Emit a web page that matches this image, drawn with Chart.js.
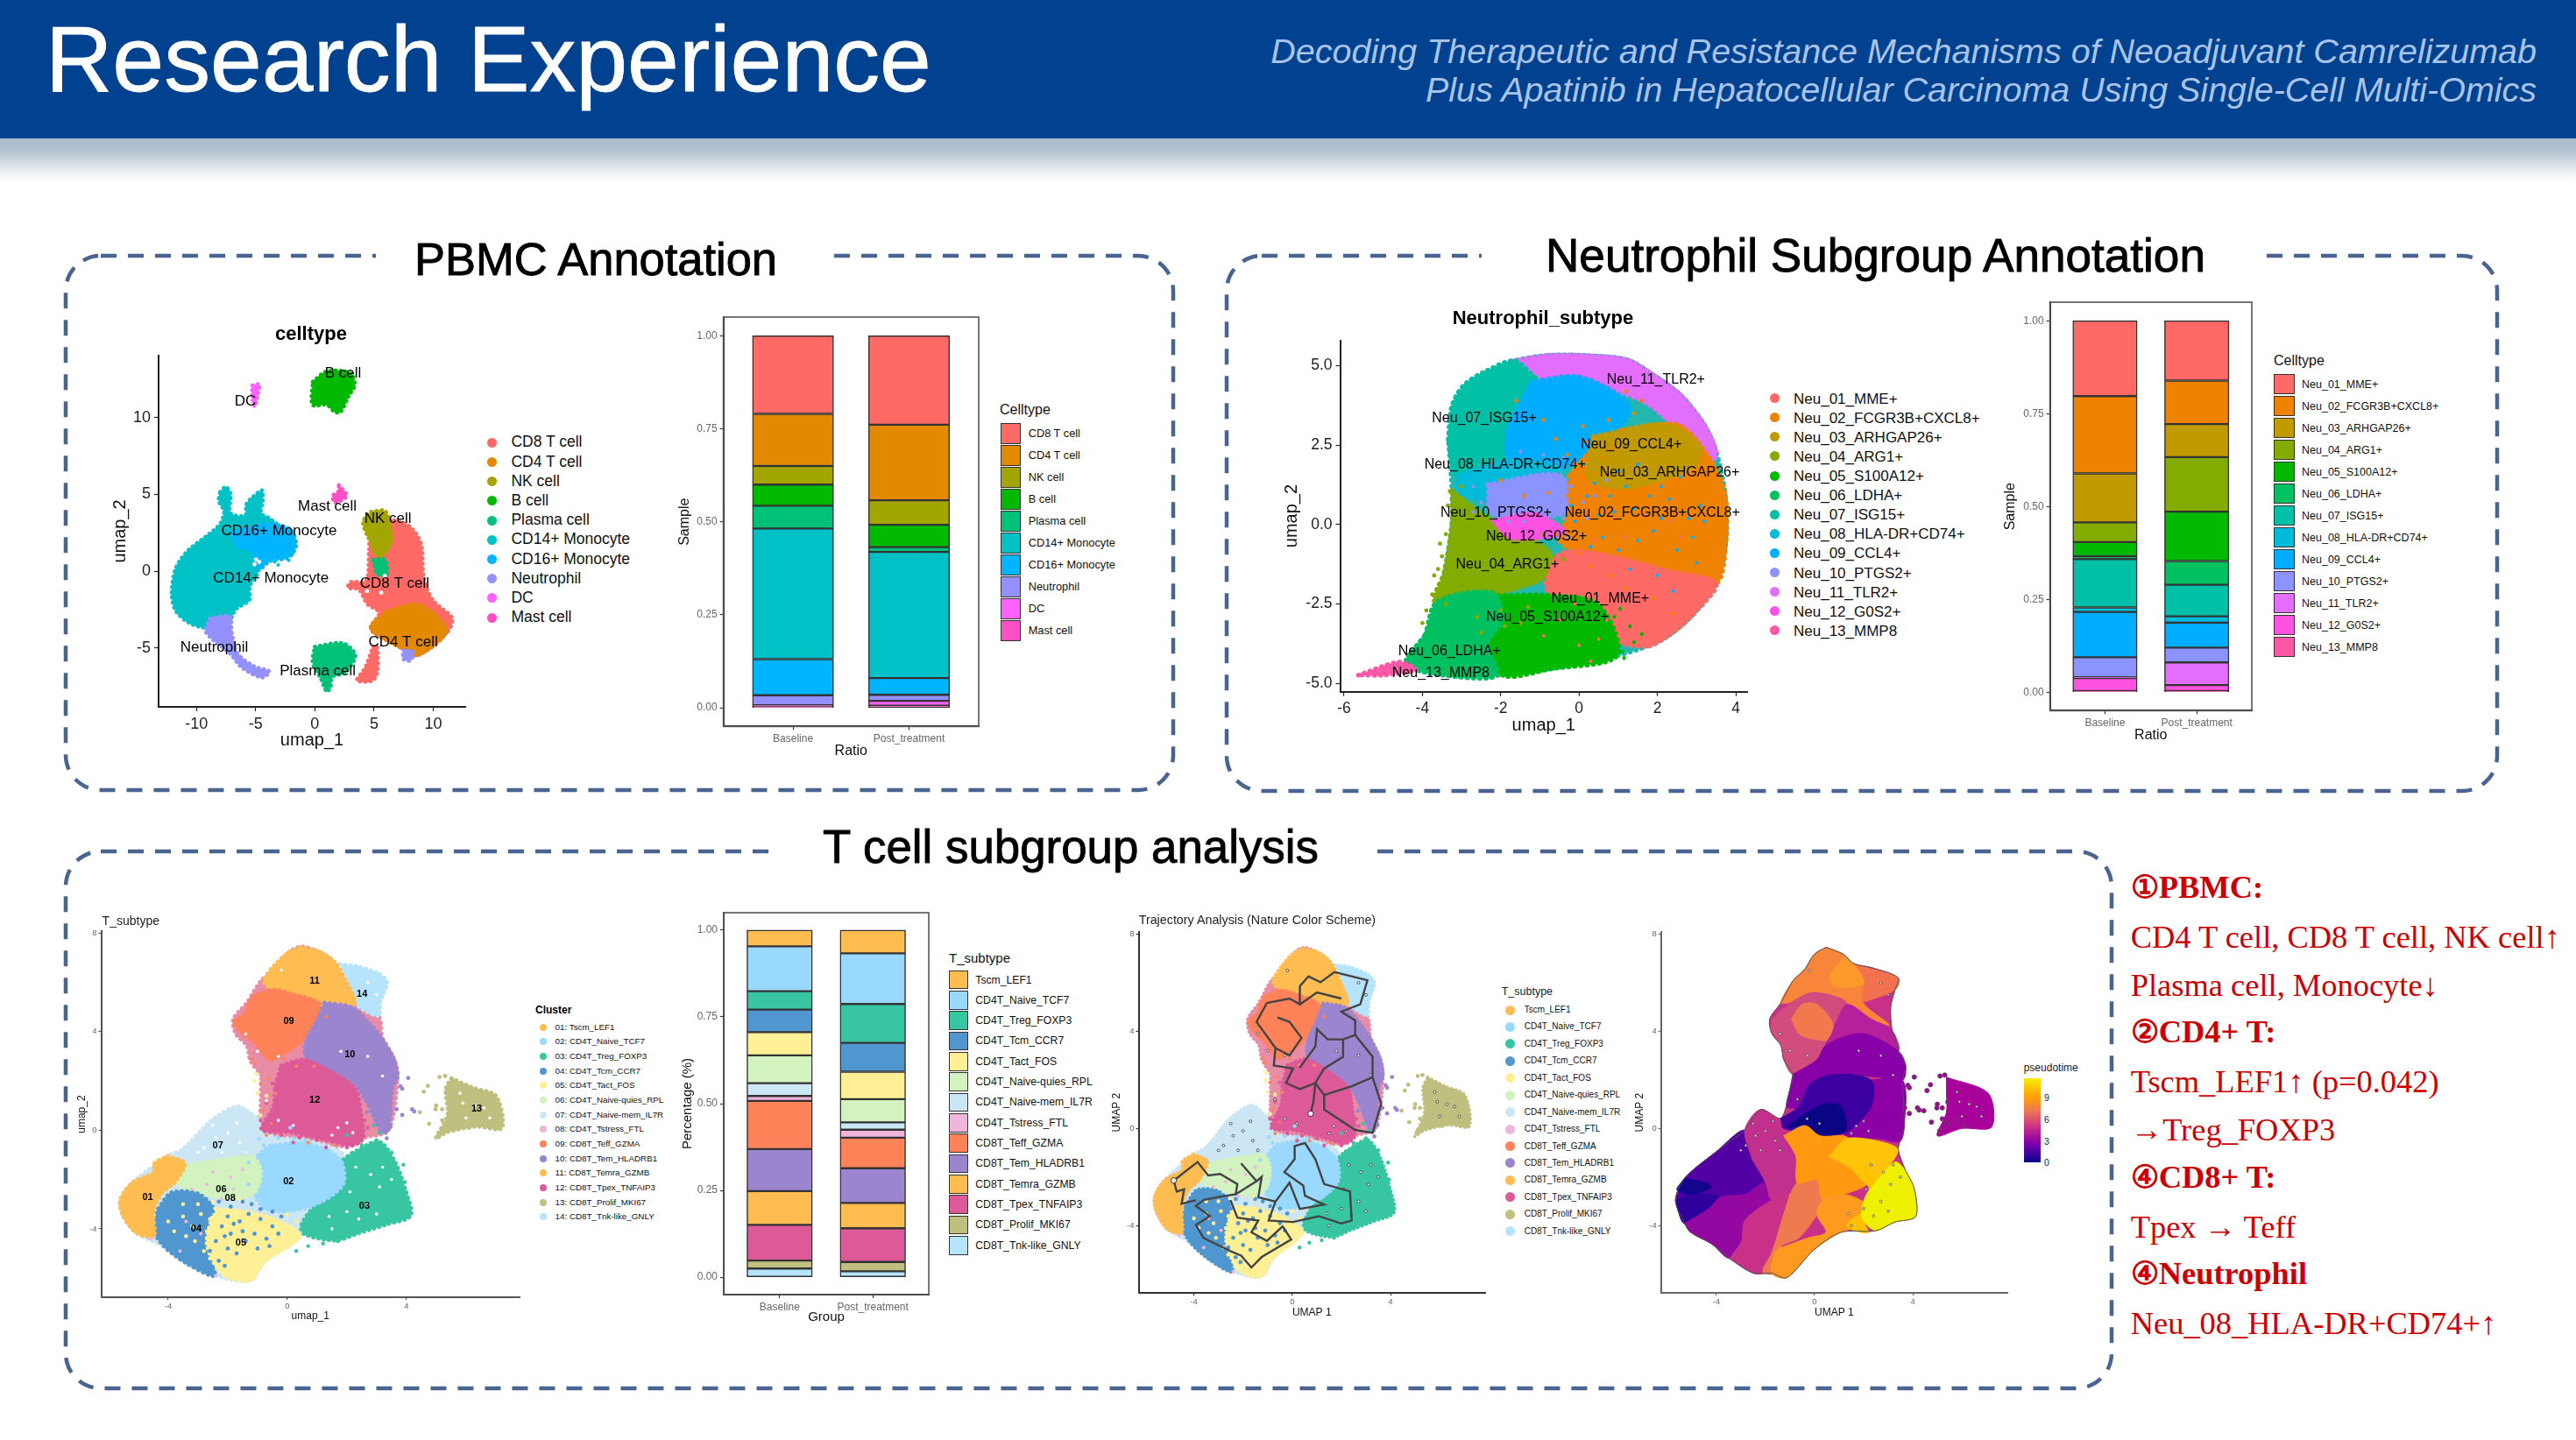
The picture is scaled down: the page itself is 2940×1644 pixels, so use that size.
<!DOCTYPE html>
<html><head><meta charset="utf-8">
<script src="https://cdn.jsdelivr.net/npm/chart.js@4/dist/chart.umd.min.js"></script>
<style>
html,body{margin:0;padding:0;background:#fff}
#page{position:relative;width:2940px;height:1644px;overflow:hidden;background:#fff;font-family:"Liberation Sans",Arial,sans-serif}
#page span{position:absolute;white-space:nowrap;line-height:1}
canvas{position:absolute}
.sw{position:absolute;box-sizing:border-box}
</style></head><body><div id="page"></div>
<script>
/* ---------- PBMC ---------- */
const pbmcNames=['CD8 T cell','CD4 T cell','NK cell','B cell','Plasma cell','CD14+ Monocyte','CD16+ Monocyte','Neutrophil','DC','Mast cell'];
const pbmcColors=['#FF6A66','#E38900','#A3A500','#00B900','#00C177','#00C2C6','#00B4FF','#9590FF','#FF61FF','#FF4FC4'];
const pbmcBaseline=[.210,.140,.050,.057,.061,.351,.097,.027,.003,.004];
const pbmcPost=[.239,.203,.066,.060,.013,.339,.045,.016,.013,.006];
const pbmcCD14=[[-8.03,5.16],[-7.52,5.51],[-7.11,5.05],[-7.18,3.89],[-6.84,3.66],[-5.88,3.66],[-5.82,4.35],[-5.31,4.81],[-4.46,5.28],[-4.39,4.58],[-4.52,3.77],[-3.78,3.43],[-2.59,2.5],[-5.14,1.34],[-4.8,-.05],[-5.48,-.97],[-5.54,-1.9],[-6.67,-2.48],[-7.18,-3.17],[-9.05,-3.7],[-10.58,-3.4],[-11.77,-2.59],[-12.11,-1.44],[-11.77,.19],[-10.75,1.34],[-9.22,2.27],[-8.03,3.08],[-7.69,3.89],[-8.13,4.58]];
const pbmcCD16=[[-7.01,2.5],[-5.48,2.85],[-3.78,3.08],[-2.07,2.73],[-1.56,1.69],[-2.24,.88],[-3.78,.65],[-4.8,.07],[-5.31,1.34],[-6.5,1.57]];
const pbmcCD8=[[6.26,3.43],[7.96,2.96],[8.98,1.81],[9.22,-.51],[10,-1.9],[11.6,-3.06],[11.19,-3.98],[8.64,-5.49],[7.11,-4.91],[4.73,-3.75],[5.41,-2.71],[4.39,-2.13],[3.71,-1.2],[2.79,-1.09],[3.03,-.69],[4.32,-.63],[4.56,1.34],[4.73,2.5]];
const pbmcCD8b=[[4.9,-4.91],[5.27,-4.91],[5.24,-6.76],[4.73,-7.18],[3.54,-7.11],[4.22,-6.3]];
const pbmcCD4=[[6.09,-2.59],[8.47,-2.13],[10.17,-2.82],[11.12,-3.98],[8.64,-5.49],[7.11,-4.95],[4.9,-3.98],[4.73,-3.52]];
const pbmcNK=[[4.73,3.89],[5.92,3.94],[6.36,3.08],[6.43,1.81],[5.41,.88],[4.73,1.81],[4.05,3.19]];
const pbmcPlasmaSmall=[[4.9,.76],[5.92,.76],[6.09,-.28],[5.24,-.16]];
const pbmcPlasma=[[-.03,-4.91],[2.35,-4.68],[3.44,-5.49],[2.52,-6.64],[1.5,-6.88],[1.33,-7.57],[.99,-7.85],[.48,-6.99],[-.2,-5.95]];
const pbmcB=[[-.2,12.34],[.99,13.03],[3.03,12.92],[3.37,12.11],[2.86,11.41],[2.18,10.37],[1.67,10.37],[.99,10.83],[-.2,10.83]];
const pbmcDC=[[-5.31,12.11],[-4.69,12.18],[-4.8,11.53],[-5.07,10.72],[-5.31,11.3]];
const pbmcMast=[[2.01,5.63],[2.69,4.93],[2.18,4.58],[1.67,4.47],[1.5,4.93],[1.94,5.16]];
const pbmcNeu=[[-8.88,-3.06],[-7.18,-2.94],[-7.01,-3.98],[-6.5,-5.37],[-5.14,-6.18],[-3.84,-6.53],[-4.46,-6.94],[-6.16,-6.3],[-7.18,-5.37],[-9.22,-3.98]];
const pbmcNeu2=[[7.45,-5.14],[8.3,-5.25],[8.06,-5.83],[7.45,-5.72]];
const pbmcHoles=[[-4.97,.76],[-4.7,.6],[-5.1,.45],[5.6,-1.4],[5.9,-.3],[4.4,-1.3]];
const pbmcTealDots=[[-6.8,3.1],[-6.2,3.2],[-5.7,3.2],[-3.4,.6],[-3.1,.4],[-2.2,.7],[-1.9,1.1]];
const pbmcLabelNames=['B cell','DC','Mast cell','NK cell','CD16+ Monocyte','CD14+ Monocyte','CD8 T cell','Neutrophil','Plasma cell','CD4 T cell'];
const pbmcLabelPos=[[2.38,12.89],[-5.88,11.09],[1.05,4.24],[6.16,3.4],[-3.03,2.62],[-3.71,-.49],[6.73,-.79],[-8.5,-4.98],[.24,-6.5],[7.45,-4.63]];
const pbmcXTicks=[-10,-5,0,5,10], pbmcYTicks=[-5,0,5,10];

/* ---------- Neutrophil ---------- */
const neuNames=['Neu_01_MME+','Neu_02_FCGR3B+CXCL8+','Neu_03_ARHGAP26+','Neu_04_ARG1+','Neu_05_S100A12+','Neu_06_LDHA+','Neu_07_ISG15+','Neu_08_HLA-DR+CD74+','Neu_09_CCL4+','Neu_10_PTGS2+','Neu_11_TLR2+','Neu_12_G0S2+','Neu_13_MMP8'];
const neuColors=['#FF6A66','#EF8300','#C09A00','#83AB00','#00B900','#00C062','#00C1A7','#00BBDA','#00ADFF','#8A93FF','#E36EFB','#FF52E0','#FF57A8'];
const neuBaseline=[.203,.208,.132,.053,.038,.008,.130,.012,.122,.054,.002,.035,.003];
const neuPost=[.161,.117,.089,.147,.133,.064,.085,.017,.067,.040,.061,.016,.003];
const neuSil=[[-3.34,2.68],[-3.25,3.72],[-2.94,4.39],[-2.33,4.86],[-1.66,5.16],[-.8,5.33],[.12,5.33],[1.23,5.19],[1.84,4.76],[2.58,4.1],[3.19,3.16],[3.5,2.31],[3.74,.89],[3.74,-.72],[3.5,-1.85],[2.94,-2.8],[2.33,-3.46],[1.72,-3.84],[.98,-4.12],[-.74,-4.55],[-1.96,-4.74],[-3.19,-4.78],[-4.42,-4.4],[-3.93,-3.46],[-3.62,-2.42],[-3.44,-1.47],[-3.25,.04],[-3.25,1.08]];
const neu11=[[-1.66,5.16],[-.8,5.33],[.12,5.33],[1.23,5.19],[1.84,4.76],[2.58,4.1],[3.19,3.16],[3.5,2.31],[3.37,1.93],[2.45,3.06],[1.72,3.82],[.74,4.29],[-.12,4.67],[-1.23,4.67]];
const neu07=[[-3.34,2.68],[-3.25,3.72],[-2.94,4.39],[-2.33,4.86],[-1.66,5.16],[-1.23,4.76],[-.98,4.39],[-1.6,3.35],[-1.72,2.4],[-2.21,1.64],[-3.07,1.46],[-3.25,1.93]];
const neu09=[[-1.23,4.48],[-.12,4.67],[.74,4.29],[1.29,3.72],[1.1,3.16],[.25,2.31],[-.49,1.74],[-1.72,1.93],[-1.84,2.87]];
const neu08=[[-3.07,1.55],[-1.72,2.02],[-.49,1.74],[-1.23,1.08],[-2.33,.79],[-3.07,.98]];
const neu10=[[-2.33,1.27],[-.49,1.55],[-.25,.42],[-2.21,.32]];
const neu02=[[-.25,1.55],[.49,2.5],[2.45,3.16],[3.37,2.02],[3.74,.89],[3.74,-.72],[3.5,-1.85],[2.33,-1.47],[.49,-1.1],[-.49,-.53],[-.25,.42]];
const neu03=[[.37,2.78],[2.21,3.16],[3.07,2.5],[2.94,1.83],[1.23,1.17],[.25,1.46]];
const neu04=[[-3.25,1.08],[-2.33,.23],[-.86,-.72],[-.61,-1.47],[-1.96,-2.14],[-3.68,-2.42],[-3.44,-1.47],[-3.25,.04]];
const neu12=[[-2.21,.13],[-1.1,.32],[-.37,-.25],[-1.72,-.43]];
const neu01=[[-.86,-1.85],[-.49,-.91],[.49,-.91],[2.33,-1.47],[3.5,-1.85],[2.94,-2.8],[2.33,-3.46],[1.72,-3.84],[.74,-3.55],[.49,-2.51],[-.74,-2.23]];
const neu05=[[-2.21,-2.23],[-.74,-2.23],[.49,-2.51],[.98,-4.12],[-.74,-4.55],[-1.96,-4.74],[-2.33,-3.55]];
const neu06=[[-3.93,-3.46],[-3.62,-2.42],[-2.21,-2.14],[-1.96,-2.99],[-2.33,-3.74],[-2.09,-4.74],[-3.19,-4.78],[-4.42,-4.4]];
const neu13=[[-5.64,-4.74],[-4.66,-4.33],[-4.36,-4.4],[-4.17,-4.59],[-5.03,-4.74]];
const neuOrangeDots=[[-.3,2.2],[.2,2.6],[.6,2.1],[1.1,3],[.9,2.4],[1.4,3.5],[-.9,3.3],[-.1,1.9],[.4,1.6],[-1.6,3.9],[-.6,2.7],[.1,3.1],[-1.4,.9],[-.8,1.0],[-2,1.4],[.75,3.3],[1.6,3.9],[1.2,4.2],[-.3,.9],[-.1,.5],[-.2,-.1],[-.6,-.3],[.0,-.9],[.3,-1.3],[.8,-1.6],[1.2,-2.0],[1.9,-2.3],[2.4,-2.8]];
const neuBlueDots=[[1.2,1.2],[1.8,.9],[2.6,1.5],[2.1,.2],[3.1,.6],[1.5,-.5],[2.5,-.8],[3,-1.2],[1,-.8],[.5,.3],[.2,.9],[2,-1.6],[.8,.9],[3.2,.1],[2.8,.2],[1.3,-1.4],[.6,-.4],[-.1,.1],[2.4,-2.1],[.1,1.9],[.4,1.3],[1,1.7],[1.5,1.9],[2.1,1.2],[.9,.4],[1.4,.5],[2.3,.8],[1.9,-.2],[2.9,-.4],[.3,-.7],[-.2,.6]];
const neuPeriDots=[[-.2,1.2],[.1,.7],[-.4,.2],[.4,.9],[-2.7,1.2],[-2.5,.7],[-1.8,.1],[-1.4,.1],[-.9,2.2],[-1.5,2.3],[-.4,2.1],[.7,1.4],[.2,.2],[-.3,-.4],[-2.7,.4]];
const neuOliveDots=[[-3.7,-1.6],[-3.5,-1],[-3.3,-.5],[-3.2,.2],[-3.1,.8],[-3,-.2],[-3.5,-2],[-3.9,-2.7],[-4,-3.1],[-3.4,-2.5],[-2.9,-1.7],[-3,1.2],[-3.6,-1.4],[-3.2,-.9],[-3.4,-.3],[-3,.5],[-2,-2.7],[-2.6,-2.9],[-1.3,-2.6],[-1.9,-3.2],[-.4,-1.1],[-3.35,.6],[-3.3,1.05],[-3.55,-.6],[-3.75,-2.2],[-2.5,-3.4],[-1.5,-3.1],[-.9,-.3]];
const neuGreenDots=[[.6,-3.3],[.9,-3.6],[1.1,-4],[.3,-3.9],[.8,-4.2],[1.3,-3.2],[.1,-2.7],[-.2,-3],[1.4,-3.7],[.9,-2.9],[1.15,-4.2],[.55,-4.35],[1.6,-3.45],[1.05,-2.65]];
const neuRedDots=[[.5,-3.6],[0,-3.8],[.3,-4.3],[.7,-3],[1,-3.5],[-.1,-2.5],[-.5,-3],[-.9,-3.5],[.1,-1.6],[-.3,-1.4],[.4,-.5],[1.2,-.4],[.9,.2],[1.7,.3],[2.3,.1],[2.6,-.4],[.2,-2.2]];
const neuLabelNames=['Neu_11_TLR2+','Neu_07_ISG15+','Neu_09_CCL4+','Neu_08_HLA-DR+CD74+','Neu_03_ARHGAP26+','Neu_10_PTGS2+','Neu_02_FCGR3B+CXCL8+','Neu_12_G0S2+','Neu_04_ARG1+','Neu_01_MME+','Neu_05_S100A12+','Neu_06_LDHA+','Neu_13_MMP8'];
const neuLabelPos=[[1.96,4.56],[-2.42,3.34],[1.33,2.53],[-1.89,1.88],[2.31,1.64],[-2.12,.38],[1.87,.38],[-1.09,-.39],[-1.83,-1.27],[.54,-2.33],[-.81,-2.91],[-3.31,-3.99],[-3.53,-4.67]];
const neuXTicks=[-6,-4,-2,0,2,4], neuYTicks=[-5,-2.5,0,2.5,5];

/* ---------- T cells ---------- */
const tNames=['Tscm_LEF1','CD4T_Naive_TCF7','CD4T_Treg_FOXP3','CD4T_Tcm_CCR7','CD4T_Tact_FOS','CD4T_Naive-quies_RPL','CD4T_Naive-mem_IL7R','CD4T_Tstress_FTL','CD8T_Teff_GZMA','CD8T_Tem_HLADRB1','CD8T_Temra_GZMB','CD8T_Tpex_TNFAIP3','CD8T_Prolif_MKI67','CD8T_Tnk-like_GNLY'];
const tColors=['#FFBC51','#99D8FF','#38C6A2','#5197CF','#FFF096','#D2F3C0','#CBE6F5','#EFB6DB','#FF8258','#9B85CE','#FFBC51','#DC5A98','#BFBF7F','#B6E4FF'];
const tBaseline=[.047,.129,.053,.065,.067,.080,.037,.014,.139,.121,.097,.103,.023,.025];
const tPost=[.067,.146,.112,.083,.079,.067,.021,.023,.088,.100,.073,.097,.027,.017];
const tBaseUp=[[-.88,2.23],[-1.25,2.83],[-1.37,3.43],[-1.74,3.91],[-1.82,4.51],[-1.37,5.17],[-.88,6.08],[-.39,6.56],[-.02,7.16],[.47,7.46],[1.2,7.16],[1.57,6.8],[2.29,5.18],[3.07,4.64],[3.21,3.7],[3.6,2.87],[3.71,2.16],[3.4,0],[2.55,-.33],[2.16,-.63],[.6,-.6],[-.87,-.1],[-.9,1]];
const tBaseLow=[[-.9,.4],[-1.66,.97],[-2.58,.38],[-3.5,-.75],[-4.02,-1.04],[-5.2,-2.11],[-5.62,-2.82],[-5.53,-3.47],[-5.07,-4.18],[-4.15,-4.72],[-3.36,-5.43],[-2.44,-5.9],[-1.26,-6.11],[-.74,-5.31],[.45,-4.24],[1.5,-2.7],[1.9,-1],[.6,-.4],[-.6,-.2]];
const tc01=[[-4.02,-1.04],[-3.43,-1.34],[-3.76,-2.11],[-4.22,-2.58],[-4.48,-3.29],[-4.48,-4.3],[-5.07,-4.18],[-5.53,-3.47],[-5.62,-2.82],[-5.2,-2.11],[-4.48,-1.69],[-4.48,-1.34]];
const tc02=[[-.6,-.63],[.58,-.51],[1.76,-1.16],[1.89,-2.17],[1.1,-2.94],[.05,-3.29],[-.74,-3.18],[-1.13,-2.58],[-1.26,-1.75],[-1,-1.04]];
const tc03=[[2.16,-.92],[3.07,-.45],[3.6,-1.22],[3.99,-2.46],[4.15,-3.47],[3.34,-3.83],[2.42,-4.18],[1.63,-4.48],[.58,-4.24],[.45,-3.89],[.84,-3.18],[1.5,-2.7],[1.89,-1.99],[1.83,-1.28]];
const tc04=[[-4.35,-3.18],[-3.89,-2.52],[-2.97,-2.58],[-2.44,-3.29],[-2.71,-4.6],[-2.44,-5.9],[-3.36,-5.43],[-4.15,-4.72],[-4.48,-4.06]];
const tc05=[[-2.44,-3.18],[-1.39,-3.29],[-.34,-3.65],[.45,-4.24],[.05,-4.72],[-.74,-5.31],[-1.26,-6.11],[-2.18,-5.84],[-2.71,-4.6]];
const tc06=[[-2.18,-1.16],[-1.13,-1.1],[-.87,-1.75],[-1.13,-2.58],[-2.05,-2.76],[-3.1,-2.52],[-3.76,-2.05],[-3.36,-1.46]];
const tc07=[[-1.66,.97],[-1.13,.14],[-1.2,-.92],[-2.31,-1.22],[-3.5,-1.16],[-3.5,-.75],[-2.84,-.21],[-2.58,.38],[-1.92,.79]];
const tc09=[[-1.13,5.47],[-.47,5.71],[.18,5.53],[1.1,5.12],[.91,4.29],[.58,3.7],[.05,3.22],[-.6,2.87],[-1.13,3.58],[-1.52,3.93],[-1.79,4.41],[-1.39,4.76],[-1.33,5.12]];
const tc10=[[1.24,5.18],[2.16,5],[2.81,4.29],[3.21,3.7],[3.6,2.87],[3.71,2.16],[3.53,1.68],[3.4,.02],[3.14,-.04],[2.68,1.09],[2.16,1.92],[1.1,2.27],[.58,3.1],[.64,3.7],[.97,4.41]];
const tc11=[[.45,7.43],[1.1,7.25],[1.63,6.78],[2.02,5.95],[2.29,5.18],[1.89,4.94],[.84,5],[.05,5.59],[-.6,5.77],[-.8,6.07],[-.47,6.66],[-.01,7.19]];
const tc12=[[-.21,2.63],[.58,2.87],[1.63,2.27],[2.29,1.68],[2.48,.73],[2.55,-.33],[2.16,-.63],[1.24,-.39],[.05,-.09],[-.87,.02],[-.47,.97],[-.41,1.8]];
const tc13=[[5.51,2.12],[6.23,1.74],[7.02,1.39],[7.21,.08],[6.36,.14],[5.37,-.09],[4.98,-.33],[5.37,.62],[5.31,1.68]];
const tc14=[[1.76,6.75],[2.35,6.66],[3.07,6.36],[3.36,6.01],[3.14,5.24],[3.07,4.64],[2.55,4.88],[2.22,5.24],[2.02,6.07]];
const tBlueDots=[[-2,-3.5],[-1.6,-3.7],[-1.3,-3.4],[-.9,-3.6],[-.5,-3.9],[-.3,-4.2],[-.7,-4.4],[-1.1,-4.2],[-1.5,-4.1],[-1.9,-4.2],[-2.2,-3.9],[-2.4,-4.5],[-2,-4.8],[-1.7,-5],[-2.3,-5.3],[-1,-4.8],[-.5,-3.3],[-1.9,-3.1],[-2.3,-2.9],[-1.5,-2.9],[-.2,-3.5],[-.6,-4.7],[-2.5,-3.3],[-2.1,-5.5],[-1.2,-3.0],[-1.8,-3.8],[-1.4,-4.5],[-.9,-3.2],[-2.1,-4.3],[-2.6,-4.9]];
const tYellowDots=[[-3.5,-3.5],[-3.2,-3.9],[-2.9,-3.4],[-2.7,-4.1],[-3.1,-4.5],[-2.8,-4.9],[-2.6,-5.2],[-3.8,-4.1],[-3.4,-4.3],[-2.6,-3.6],[-3,-3],[-3.5,-3],[-4,-3.7],[-1.05,2.3],[-1.1,2],[-1,1.5],[-.7,1.4],[-.9,.6],[-2.5,-2.9],[-1.6,-2.8],[0,-3.4],[.3,-3.7]];
const tPinkDots=[[-2.2,-2.8],[-2.7,-2.2],[-3.2,-2.4],[-1.8,-2.4],[-2.9,-4.2],[-3.6,-4.9],[-2.4,-5.9],[-1.9,-1.9],[-4.6,-4.4],[-2.5,-1.7],[-3.4,-3.7],[-1.5,-1.6]];
const tCoralDots=[[-.9,1.9],[-.6,2.1],[-.8,.8],[-.4,1.5],[-1.1,2.7],[-1.2,2.9],[.7,-.5],[-.3,-.3],[-.7,-.2],[1.6,-.6],[-.55,.25],[.3,2.6],[.9,2.6],[.3,5.0],[.7,4.7],[1.3,4.6],[-.1,2.9]];
const tRoseDots=[[-.9,.4],[-.6,.2],[-.2,-.2],[.4,-.3],[1,-.4],[1.6,-.3],[2.2,-.3],[2.4,-.5],[2.7,.1],[2.6,.4],[-.5,.6],[-.7,1.1],[-.5,1.9],[.2,-.5],[1.3,-.7],[2,-.7]];
const tSkyDots=[[-.3,-.3],[.2,-.35],[.6,-.4],[-.8,-.6],[1,-.65],[-1.4,-.9],[-1.3,-1.3],[-.95,-.35],[1.4,-.85],[-1.3,-2.2],[.1,.1]];
const tTemDots=[[4.06,2.12],[3.8,1.78],[3.34,1.33],[3.21,1.09],[3.47,.73],[2.94,.73],[3.07,.97],[2.68,.73],[2.88,1.56],[2.68,1.68],[3.21,1.68],[3.67,.85],[3.86,.62],[4.19,.85],[4.26,.76],[3.86,1.68],[3.47,.14],[3.34,-.33],[3.4,.5],[3.1,.35],[3.3,-.1]];
const tOliveDots=[[4.98,.85],[4.72,1.8],[4.58,1.56],[4.45,.73],[5.11,2.16],[5.3,2.2],[4.76,.26],[5.43,1.09],[5,1],[5.2,.85],[5.2,.4],[5.1,-.1],[5.4,.2],[5.8,.3],[6.1,.1],[5.6,.6]];
const tTealDots=[[2,-.2],[2.5,-.6],[3.1,-.1],[3,-.4],[2.9,.2],[3.5,-.9],[3.9,-1.4],[3.95,-2.1],[1.7,-4.5],[1.2,-4.6],[.7,-4.7],[.3,-4.9],[2.85,-.8]];
const tHoles=[[-2.4,-.3],[-2,-.1],[-1.6,-.5],[-2.8,-.7],[-2.2,-.9],[-1.7,.3],[-3,-.9],[-2.5,.2],[-1.4,-.9],[2,.3],[2.2,-.1],[1.7,.1],[.2,.2],[1.5,-.2],[-.3,.4],[2.3,-1.5],[2.8,-1.8],[2.1,-2.5],[2.7,-3],[3.1,-2.3],[2,-3.3],[1.4,-3.5],[2.4,-3.6],[1.5,-4],[3.2,-1.5],[3.5,-2],[3,-3.4],[5.9,1.1],[6.3,1],[5.8,1.5],[6.6,.9],[6,.5],[6.8,.5],[-1.4,3.9],[-1,3.2],[-.3,3],[1.8,3.2],[2.7,3],[3.2,2.2],[3,5.5],[2.7,6],[-.2,6.5],[-.7,1.2]];
const tLabelNames=['01','02','03','04','05','06','07','08','09','10','11','12','13','14'];
const tLabelPos=[[-4.69,-2.73],[.04,-2.07],[2.59,-3.08],[-3.06,-4.02],[-1.56,-4.57],[-2.22,-2.42],[-2.33,-.62],[-1.92,-2.75],[.05,4.42],[2.1,3.08],[.92,6.04],[.92,1.22],[6.36,.88],[2.51,5.52]];
const tXTicks=[-4,0,4], tYTicks=[-4,0,4,8];

/* trajectory branches */
const trajA=[[-4.82,-2.14],[-3.85,-1.38],[-3.42,-1.93],[-2.93,-1.87],[-2.23,-2.29],[-2.3,-2.71],[-3.07,-2.83],[-3.61,-2.95],[-3.92,-3.19],[-3.35,-3.61],[-3.92,-3.97],[-3.61,-4.51],[-2.51,-5.05],[-2.08,-5.23],[-1.66,-5.72],[-1.24,-5.29],[-.04,-4.57],[-.39,-4.03],[-1.03,-4.63],[-1.66,-4.27],[-1.38,-3.79],[-2.23,-3.67],[-2.51,-2.95]];
const trajA2=[[-4.82,-2.14],[-4.7,-2.6],[-4.4,-2.5],[-4.5,-3.1],[-3.92,-2.95]];
const trajB=[[-2.3,-2.71],[-1.45,-2.17],[-2.08,-1.44],[-1.45,-2.17],[-1.24,-1.99],[-1.38,-2.83],[-.68,-3.01],[-.96,-3.79],[.03,-3.85],[1.08,-3.61],[2,-3.91],[2.42,-3.79],[2.35,-2.59],[1.3,-2.29],[.94,-1.26],[.52,-.6],[.1,-.72],[.1,-1.26],[-.32,-1.8],[.45,-2.35],[.52,-2.77],[1.3,-3.13],[.31,-3.31],[-.11,-2.23],[-.68,-3.01]];
const trajC=[[.75,.61],[.87,1.14],[.94,1.87],[.31,1.62],[-.25,1.87],[.03,2.47],[-.75,2.59],[-.68,3.31],[-.11,3.01],[.38,3.73],[-.11,4.39],[-.6,4.57]];
const trajD=[[-.68,3.31],[-1.45,4.39],[-1.03,5.17],[-.11,5.35],[.31,5.11],[.31,5.86],[.66,6.26],[1.15,6.02],[1.72,6.44],[3.06,6.1],[2.77,5.11],[2,4.81],[2.56,4.45],[2.56,3.85],[3.27,2.95],[3.27,2.11],[3.62,1.02],[3.27,-.18],[2.56,-.06],[1.3,.78],[1.3,1.38],[2.42,1.74],[3.27,2.11]];
const trajE=[[.31,5.11],[1.01,5.6],[2,5.35]];
const trajF=[[2.56,3.85],[2.07,3.67],[1.44,3.67],[1.01,4.09],[.94,3.37],[.3,2.5]];
const trajG=[[1.3,1.38],[.94,1.87],[1.3,2.47],[2.07,2.95],[2.07,3.67]];
const trajRoots=[[-4.82,-2.14],[.75,.61]];

/* pseudotime regions */
const ptOuter=[[.47,7.46],[1.2,7.16],[1.57,6.8],[2.4,6.6],[3.41,6.2],[3.28,5.72],[3.1,5],[3.16,4.03],[3.41,3.19],[3.71,2.59],[3.59,1.99],[3.65,.06],[3.47,-.54],[3.41,-.9],[3.71,-1.74],[4.02,-2.35],[4.17,-3.19],[4.08,-3.67],[3.28,-3.85],[2.49,-4.21],[1.08,-4.27],[-.02,-4.99],[-1.13,-6.14],[-1.74,-5.96],[-2.48,-5.96],[-3.46,-5.35],[-4.19,-4.75],[-5.05,-4.27],[-5.29,-3.91],[-5.66,-2.95],[-5.29,-2.05],[-4.01,-.96],[-2.84,-.06],[-2.17,.78],[-1.37,.42],[-1,1.62],[-.88,2.23],[-1.25,2.83],[-1.37,3.43],[-1.74,3.91],[-1.82,4.51],[-1.37,5.17],[-.88,6.08],[-.39,6.56],[-.02,7.16]];
const ptRegions=[
[[.47,7.46],[1.2,7.16],[1.57,6.8],[3.41,6.2],[3.28,5.72],[2.3,5.84],[1.94,5.23],[3.04,4.27],[2.3,4.51],[1.32,5.17],[-.02,5.6],[-.88,5.23],[-1.37,5.17],[-.88,6.08],[-.39,6.56],[-.02,7.16]],
[[1.63,6.74],[3.41,6.2],[3.28,5.72],[2.3,5.3],[1.94,5.23],[2,5.96]],
[[1.2,7.04],[1.63,6.74],[2,5.96],[.83,5.84],[.65,6.32]],
[[-1.74,4.51],[-.88,5.23],[-.02,5.6],[1.32,5.17],[.83,4.27],[.71,3.91],[.47,3.43],[.1,2.83],[-.88,2.23],[-1.25,2.83],[-1.37,3.43],[-1.74,3.91]],
[[-.94,4.51],[-.51,5.11],[.1,5.11],[.71,4.39],[.71,3.67],[-.02,3.67],[-.64,3.91]],
[[.83,4.27],[1.32,5.11],[2.3,4.51],[3.16,4.03],[3.41,3.19],[1.94,3.91],[.47,3.43],[.71,3.91]],
[[-.88,2.23],[.1,2.83],[.47,3.43],[1.94,3.91],[3.41,3.19],[3.71,2.59],[3.59,1.99],[2.67,2.11],[.83,2.23],[-.15,1.87],[-.64,.9],[-1.13,.9],[-1,1.62]],
[[2.3,1.99],[3.59,1.99],[3.65,.06],[3.47,-.54],[2.67,-.42],[1.26,-.3],[1.26,-.06],[2.3,.9]],
[[-1.37,.42],[-.64,.9],[-.15,1.87],[.83,2.23],[2.3,1.99],[2.3,.9],[1.26,-.18],[.34,-.18],[-1.25,0]],
[[-1.13,.06],[-.39,.6],[.47,1.02],[1.08,.9],[1.26,-.06],[.34,-.3],[-.39,.06]],
[[-5.66,-2.95],[-5.29,-2.05],[-4.01,-.96],[-2.84,-.06],[-2.54,-1.26],[-1.99,-2.23],[-2.84,-2.71],[-3.82,-2.83],[-4.31,-3.31],[-5.29,-3.91]],
[[-5.66,-2.95],[-4.93,-2.71],[-3.82,-2.83],[-4.31,-3.31],[-5.29,-3.91],[-5.54,-3.43]],
[[-5.29,-2.05],[-4.44,-2.23],[-4.19,-2.41],[-4.93,-2.71],[-5.6,-2.53]],
[[-5.29,-3.91],[-4.31,-3.31],[-3.82,-2.83],[-2.84,-2.71],[-1.99,-2.23],[-1.74,-2.95],[-2.84,-3.79],[-2.97,-4.63],[-3.46,-5.35],[-4.19,-4.75],[-5.05,-4.27]],
[[-2.54,-1.26],[-2.84,-.06],[-2.17,.78],[-1.13,-.3],[-.76,-1.14],[-.7,-2.23],[-1,-2.71],[-1.74,-2.95],[-1.99,-2.23]],
[[-3.46,-5.35],[-2.97,-4.63],[-2.84,-3.79],[-1.74,-2.95],[-1,-2.71],[-1.37,-3.91],[-1.74,-5.11],[-2.11,-5.9],[-2.48,-5.96]],
[[-1,-2.71],[-.7,-2.23],[.1,-2.11],[.34,-2.95],[.1,-3.55],[-.64,-4.51],[-1.37,-4.87],[-1.62,-5.96],[-2.11,-5.9],[-1.74,-5.11],[-1.37,-3.91]],
[[-1.25,-.3],[-.39,.12],[.22,-.3],[1.32,-.36],[1.81,-1.26],[2.18,-2.23],[1.2,-2.71],[.34,-2.95],[.1,-2.11],[-.7,-2.23],[-.76,-1.14]],
[[-1.43,-4.93],[-.27,-4.51],[.47,-4.27],[.1,-3.55],[.34,-2.95],[1.2,-2.71],[2.18,-3.19],[2.06,-3.91],[1.08,-4.27],[-.02,-4.99],[-1.13,-6.14],[-1.74,-5.96],[-1.62,-5.11]],
[[.59,-1.14],[1.32,-.42],[2.67,-.54],[3.41,-.9],[2.43,-2.23],[2.18,-2.35],[1.45,-1.62]],
[[1.81,-1.26],[2.43,-2.23],[2,-3.43],[1.94,-3.67],[2.18,-4.3],[1.3,-4],[2.18,-3.19],[2.18,-2.23]],
[[2.55,-2.11],[3.28,-1.38],[3.71,-1.74],[4.02,-2.35],[4.17,-3.19],[4.08,-3.67],[3.28,-3.85],[2.49,-4.21],[1.94,-3.67],[2.06,-2.83]],
[[5.37,2.11],[7.08,1.44],[7.21,.06],[5.98,0],[5,-.3],[5.37,.66],[5.37,1.5]]
];
const ptRegionColors=['#F8853A','#F2714F','#FB9A2A','#D24C7E','#F2784E','#B6209A','#8800A8','#8D00A6','#3D00A0','#0A0584','#5200A4','#30009C','#14058F','#9408A2','#C0308C','#C93088','#EE7A50','#FF9A10','#FF9A20','#FFC40A','#FFC000','#EFEF00','#A8009A'];
const ptPurpleDots=[[4.06,2.12],[3.8,1.78],[3.67,.85],[3.86,.62],[4.19,.85],[4.26,.76],[3.86,1.68],[4.98,.85],[4.72,1.8],[4.58,1.56],[4.45,.73],[5.11,2.16],[5.3,2.2],[4.76,.26],[5.43,1.09],[5,1],[5.2,.85],[5.2,.4],[5.1,-.1],[5.4,.2],[5.8,.3],[6.1,.1]];
const ptXTicks=[-4,0,4];
const ptLegendTicks=['9','6','3','0'];

const barGroups=['Baseline','Post_treatment'];

/* ---------- helpers ---------- */
const page=document.getElementById('page');
const mctx=document.createElement('canvas').getContext('2d');
function fitSize(str,w,font){mctx.font='100px '+font;return 100*w/mctx.measureText(str).width;}
function T(str,x,y,o={}){
  const e=document.createElement('span');e.textContent=str;
  const fam=o.family||'"Liberation Sans"';const size=o.fit?fitSize(str,o.fit,(o.style||'')+' '+(o.weight||'')+' '+fam):o.size;
  e.style.cssText=`left:${x}px;top:${y}px;font-family:${fam};font-size:${size}px;color:${o.color||'#000'};font-weight:${o.weight||'normal'};font-style:${o.style||'normal'};transform:translate(${o.anchor==='r'?'-100%':o.anchor==='c'?'-50%':'0'},-50%);z-index:${o.z||5};${o.stroke?'-webkit-text-stroke:'+o.stroke+'px '+(o.color||'#000')+';':''}`;
  page.appendChild(e);return e;
}
function box(x,y,w,h,css){const d=document.createElement('div');d.className='sw';d.style.cssText+=`left:${x}px;top:${y}px;width:${w}px;height:${h}px;${css}`;page.appendChild(d);return d;}
function dotLegend(names,colors,cx,y0,dy,r,tx,fs){names.forEach((n,i)=>{box(cx-r,y0+i*dy-r,2*r,2*r,`background:${colors[i]};border-radius:50%;`);T(n,tx,y0+i*dy,{size:fs,color:'#111'});});}
function swatchLegend(names,colors,x,w,y0,h,dy,tx,fs){names.forEach((n,i)=>{box(x,y0+i*dy,w,h,`background:${colors[i]};border:1.5px solid #333;`);T(n,tx,y0+i*dy+h/2,{size:fs,color:'#111'});});}
const P=a=>a.concat([a[0]]).map(p=>({x:p[0],y:p[1]}));
const Q=a=>a.map(p=>({x:p[0],y:p[1]}));
const poly=(a,c,fuzzy=true,w=4)=>({data:P(a),showLine:true,fill:'shape',backgroundColor:c,borderColor:c,borderWidth:fuzzy?w:1,borderDash:fuzzy?[1,w+1]:[],borderCapStyle:'round',pointRadius:0,tension:.3});
const dots=(a,c,r=2,edge)=>({data:Q(a),showLine:false,pointRadius:r,backgroundColor:c,borderColor:edge||c,borderWidth:edge?.8:0,pointHoverRadius:r});
const pline=(a,c='#444',w=2.4,tn=0)=>({data:Q(a),showLine:true,fill:false,borderColor:c,borderWidth:w,pointRadius:0,tension:tn});

function makeChart(o){
  const f=o.titleFs, left=o.yTitleX-.6*f, top=o.t-12, right=o.r+12, bottom=o.xTitleY+.6*f;
  const W=Math.round(right-left),H=Math.round(bottom-top);
  const c=document.createElement('canvas');c.width=W;c.height=H;
  c.style.cssText=`left:${left}px;top:${top}px;width:${W}px;height:${H}px;z-index:3`;page.appendChild(c);
  const tickFont={family:'"Liberation Sans"',size:o.tickFs};
  const titleFont={family:'"Liberation Sans"',size:f};
  const plugins=[{id:'extras',afterDraw(ch){
    const g=ch.ctx,a=ch.chartArea;
    if(o.frame){g.save();g.strokeStyle='#555';g.lineWidth=1.6;g.strokeRect(a.left,a.top,a.right-a.left,a.bottom-a.top);g.restore();}
    if(o.labels){g.save();g.font=(o.labelWeight||'normal')+' '+o.labelFs+'px "Liberation Sans"';g.fillStyle='#000';g.textAlign='center';g.textBaseline='middle';
      o.labels.forEach((n,i)=>g.fillText(n,ch.scales.x.getPixelForValue(o.labelPos[i][0]),ch.scales.y.getPixelForValue(o.labelPos[i][1])));g.restore();}
  }}];
  const axis=(min,max,vals,fmt,title,fit)=>({type:'linear',min,max,offset:false,stacked:!!o.stacked,
    afterBuildTicks:s=>{s.ticks=vals.map(v=>({value:v}));},
    afterFit:fit,
    ticks:{font:tickFont,color:o.tickColor||'#222',padding:o.tickPad||3,autoSkip:false,maxRotation:0,minRotation:0,callback:fmt},
    grid:{offset:false,drawOnChartArea:false,tickLength:o.tickLen||5,tickColor:o.spine||'#222',tickWidth:1.2},
    border:{color:o.spine||'#222',width:o.spineW||2},
    title:{display:true,text:title,font:titleFont,color:'#111',padding:0}});
  new Chart(c,{type:o.type||'scatter',data:{datasets:o.datasets.slice().reverse()},plugins,
    options:{responsive:false,animation:false,devicePixelRatio:1,
      layout:{padding:{top:12,right:12,left:0,bottom:0}},
      plugins:{legend:{display:false},tooltip:{enabled:false}},
      scales:{
        x:axis(o.xr[0],o.xr[1],o.xt,o.xf||(v=>String(v)),o.xTitle,s=>{s.height=bottom-o.b;}),
        y:axis(o.yr[0],o.yr[1],o.yt,o.yf||(v=>String(v)),o.yTitle,s=>{s.width=o.l-left;})
      }}});
}
function stacked(o){
  const ds=o.names.map((n,i)=>({label:n,data:[{x:1,y:o.a[i]},{x:2,y:o.c[i]}],backgroundColor:o.colors[i],borderColor:'#333',borderWidth:1.5,borderSkipped:false,barThickness:o.barW}));
  makeChart(Object.assign({type:'bar',stacked:true,frame:true,tickColor:'#666',spine:'#333',tickFs:12,titleFs:16,tickLen:4,
    xr:[.4,2.6],xt:[1,2],xf:v=>barGroups[v-1],yr:[-.05,1.05],yt:[0,.25,.5,.75,1],yf:v=>v.toFixed(2),datasets:ds},o));
}

/* ---------- header ---------- */
box(0,0,2940,158,'background:#004190;');
box(0,158,2940,52,'background:linear-gradient(#A9BBCB 0%,#B5C3D1 30%,#D5DEE5 55%,#F3F5F7 80%,#fff 100%);');
T('Research Experience',52,68,{fit:1011,color:'#fff',z:6,stroke:.8});
T('Decoding Therapeutic and Resistance Mechanisms of Neoadjuvant Camrelizumab',2895,59,{fit:1445,color:'#A9C4E8',style:'italic',anchor:'r',z:6});
T('Plus Apatinib in Hepatocellular Carcinoma Using Single-Cell Multi-Omics',2895,103,{fit:1270,color:'#A9C4E8',style:'italic',anchor:'r',z:6});

/* ---------- dashed panels ---------- */
const NS='http://www.w3.org/2000/svg';
const svg=document.createElementNS(NS,'svg');svg.setAttribute('width',2940);svg.setAttribute('height',1644);svg.style.cssText='position:absolute;left:0;top:0;z-index:1';page.appendChild(svg);
function panel(x1,y1,x2,y2,g1,g2){
  const r=document.createElementNS(NS,'rect');
  for(const [k,v] of Object.entries({x:x1,y:y1,width:x2-x1,height:y2-y1,rx:40,ry:40,fill:'none',stroke:'#4A6491','stroke-width':4.5,'stroke-dasharray':'18 13'}))r.setAttribute(k,v);
  svg.appendChild(r);
  const w=document.createElementNS(NS,'rect');
  for(const [k,v] of Object.entries({x:g1,y:y1-8,width:g2-g1,height:16,fill:'#fff'}))w.setAttribute(k,v);
  svg.appendChild(w);
}
panel(75,292,1339,902,429,939);
panel(1400,292,2850,903,1691,2578);
panel(75,972,2410,1585,881,1568);
T('PBMC Annotation',473,296,{fit:417,stroke:.9});
T('Neutrophil Subgroup Annotation',1764,292,{fit:756,stroke:.9});
T('T cell subgroup analysis',939,967,{fit:567,stroke:.9});

/* ---------- PBMC umap ---------- */
const c=pbmcColors;
makeChart({l:181,t:403,r:531,b:807,xr:[-13.2,12.7],yr:[-8.84,14.06],xt:pbmcXTicks,yt:pbmcYTicks,xTitle:'umap_1',yTitle:'umap_2',xTitleY:845,yTitleX:137,titleFs:20,tickFs:18,tickLen:5,tickPad:4,
 labels:pbmcLabelNames,labelPos:pbmcLabelPos,labelFs:17,
 datasets:[poly(pbmcCD14,c[5]),poly(pbmcCD16,c[6]),poly(pbmcCD8,c[0]),poly(pbmcCD8b,c[0]),poly(pbmcCD4,c[1]),poly(pbmcNK,c[2]),poly(pbmcPlasmaSmall,c[4]),poly(pbmcPlasma,c[4]),poly(pbmcB,c[3]),poly(pbmcDC,c[8]),poly(pbmcMast,c[9]),poly(pbmcNeu,c[7]),poly(pbmcNeu2,c[7]),dots(pbmcTealDots,c[5],2),dots(pbmcHoles,'#fff',2.4)]});
T('celltype',355,381,{size:22,weight:'bold',anchor:'c'});
dotLegend(pbmcNames,pbmcColors,561.8,505.3,22.2,5.5,583.4,17.5);
stacked({l:826,t:362,r:1117,b:829,xTitle:'Ratio',yTitle:'Sample',xTitleY:857,yTitleX:782,names:pbmcNames,colors:pbmcColors,a:pbmcBaseline,c:pbmcPost,barW:92.6});
T('Celltype',1141,467.5,{size:16,color:'#111'});
swatchLegend(pbmcNames,pbmcColors,1141.5,23.5,483,23.5,25,1173.7,12.8);

/* ---------- Neutrophil umap ---------- */
const n=neuColors;
makeChart({l:1529.5,t:385.5,r:1994,b:788.7,xr:[-6.1,4.29],yr:[-5.26,5.8],xt:neuXTicks,yt:neuYTicks,yf:v=>v.toFixed(1),xTitle:'umap_1',yTitle:'umap_2',xTitleY:827,yTitleX:1474,titleFs:20,tickFs:17.5,tickLen:5,tickPad:4,
 labels:neuLabelNames,labelPos:neuLabelPos,labelFs:16,
 datasets:[poly(neuSil,'#22B8B0',true,5),poly(neu11,n[10],true,5),poly(neu07,n[6],true,5),poly(neu09,n[8],true,5),poly(neu08,n[7],true,5),poly(neu10,n[9],true,5),poly(neu02,n[1],true,5),poly(neu03,n[2],true,5),poly(neu04,n[3],true,5),poly(neu12,n[11],true,5),poly(neu01,n[0],true,5),poly(neu05,n[4],true,5),poly(neu06,n[5],true,5),poly(neu13,n[12],true,5),
  dots(neuOrangeDots,n[1],2.2),dots(neuBlueDots,n[8],2),dots(neuPeriDots,n[9],2.2),dots(neuOliveDots,n[3],2.4),dots(neuGreenDots,n[4],2.2),dots(neuRedDots,n[0],2)]});
T('Neutrophil_subtype',1761,363,{size:22,weight:'bold',anchor:'c'});
dotLegend(neuNames,neuColors,2025.8,454.6,22.1,5.5,2047,17);
stacked({l:2340,t:344.5,r:2570.3,b:811,xTitle:'Ratio',yTitle:'Sample',xTitleY:839,yTitleX:2295,names:neuNames,colors:neuColors,a:neuBaseline,c:neuPost,barW:73.5});
T('Celltype',2595,412,{size:16,color:'#111'});
swatchLegend(neuNames,neuColors,2595,23.5,427.4,23,25,2627,12.5);

/* ---------- T umap ---------- */
const t=tColors;
function tLayers(edge){
  const e=edge?3:4;
  return [poly(tBaseUp,'#E98CA6',true,e),poly(tBaseLow,'#CDE6F3',true,e),poly(tc14,t[13],true,e),poly(tc11,t[10],true,e),poly(tc09,t[8],true,e),poly(tc10,t[9],true,e),poly(tc12,t[11],true,e),poly(tc13,t[12],true,e),poly(tc07,t[6],true,e),poly(tc03,t[2],true,e),poly(tc02,t[1],true,e),poly(tc06,t[5],true,e),poly(tc04,t[3],true,e),poly(tc05,t[4],true,e),poly(tc01,t[0],true,e),
   dots(tBlueDots,t[3],2.4),dots(tYellowDots,t[4],2.2),dots(tPinkDots,t[7],2),dots(tCoralDots,t[8],2),dots(tRoseDots,t[11],2.2),dots(tSkyDots,t[1],2.2),dots(tTemDots,t[9],2.4),dots(tOliveDots,t[12],2.4),dots(tTealDots,t[2],2.2)];
}
makeChart({l:115.7,t:1063.3,r:593.4,b:1481.3,xr:[-6.25,7.8],yr:[-6.78,8.08],xt:tXTicks,yt:tYTicks,xTitle:'umap_1',yTitle:'umap_2',xTitleY:1503,yTitleX:93.4,titleFs:12,tickFs:9.5,tickColor:'#666',tickLen:3,tickPad:2,spine:'#555',
 labels:tLabelNames,labelPos:tLabelPos,labelFs:11,labelWeight:'bold',
 datasets:tLayers(false).concat([dots(tHoles,'#fff',1.8)])});
T('T_subtype',116.6,1050.7,{size:14,color:'#222'});
T('Cluster',611,1153,{size:12,weight:'bold'});
dotLegend(tNames.map((s,i)=>String(i+1).padStart(2,'0')+': '+s),tColors,619.7,1172.7,16.67,4,633.6,9.8);
stacked({l:826,t:1041.7,r:1060,b:1478,xTitle:'Group',yTitle:'Percentage (%)',xTitleY:1504,yTitleX:785,names:tNames,colors:tColors,a:tBaseline,c:tPost,barW:74.7,titleFs:15});
T('T_subtype',1083,1093,{size:15,color:'#111'});
swatchLegend(tNames,tColors,1083.3,21.7,1107.7,21.6,23.33,1113.3,12.2);

/* ---------- trajectory ---------- */
makeChart({l:1299.3,t:1064.3,r:1695,b:1476,xr:[-6.25,7.85],yr:[-6.77,8.09],xt:tXTicks,yt:tYTicks,xTitle:'UMAP 1',yTitle:'UMAP 2',xTitleY:1498.7,yTitleX:1274,titleFs:12,tickFs:9.5,tickColor:'#666',tickLen:3,tickPad:2,spine:'#333',
 datasets:tLayers(true).concat([dots(tHoles,'#fff',1.5,'#333'),pline(trajA),pline(trajA2),pline(trajB),pline(trajC),pline(trajD),pline(trajE),pline(trajF),pline(trajG),dots(trajRoots,'#EEE',3.2,'#111')])});
T('Trajectory Analysis (Nature Color Scheme)',1299.7,1050,{size:14.3,color:'#222'});
T('T_subtype',1713.7,1131.7,{size:12.5,color:'#222'});
dotLegend(tNames,tColors,1723.5,1153,19.44,5.5,1739.7,10);

/* ---------- pseudotime ---------- */
makeChart({l:1895.5,t:1064.3,r:2290.4,b:1476,xr:[-6.25,7.85],yr:[-6.77,8.09],xt:ptXTicks,yt:tYTicks,xTitle:'UMAP 1',yTitle:'UMAP 2',xTitleY:1498.7,yTitleX:1871,titleFs:12,tickFs:9.5,tickColor:'#666',tickLen:3,tickPad:2,spine:'#666',
 datasets:[poly(ptOuter,'#C93088',false)].concat(ptRegions.map((r,i)=>poly(r,ptRegionColors[i],false))).concat([pline(ptOuter.concat([ptOuter[0]]),'#555',1,.3),dots(ptPurpleDots,'#A8009A',2.6,'#555'),dots(tHoles,'#fff',1.3,'#444')])});
box(2309.7,1230.7,19.3,96,'background:linear-gradient(#F4F000 0%,#FFC000 12%,#FF9A10 25%,#EE7A50 38%,#C93088 58%,#8800A8 76%,#3D00A0 90%,#0A0584 100%);');
T('pseudotime',2309.7,1219,{size:12,color:'#222'});
ptLegendTicks.forEach((s,i)=>{T(s,2333,[1253,1278,1303,1327][i],{size:10.5,color:'#222'});});

/* ---------- right notes ---------- */
const serif='"Liberation Serif","DejaVu Serif"';
const noteSize=fitSize('CD4 T cell, CD8 T cell, NK cell↑',493,serif);
const notes=[['①PBMC:',1025,1],['CD4 T cell, CD8 T cell, NK cell↑',1081.7,0],['Plasma cell, Monocyte↓',1137,0],['②CD4+ T:',1190,1],['Tscm_LEF1↑ (p=0.042)',1247,0],['→Treg_FOXP3',1302,0],['④CD8+ T:',1356,1],['Tpex → Teff',1413,0],['④Neutrophil',1466,1],['Neu_08_HLA-DR+CD74+↑',1522.6,0]];
notes.forEach(([s,b,bold])=>T(s,2431.7,b-.32*noteSize,{size:noteSize,color:'#CC0000',family:serif,weight:bold?'bold':'normal'}));
</script>
</body></html>
